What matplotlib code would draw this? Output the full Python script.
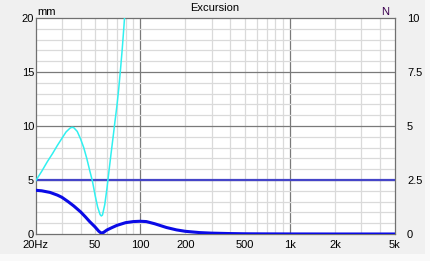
import matplotlib
matplotlib.use("Agg")
import matplotlib.pyplot as plt
from matplotlib.patches import Rectangle

# Frequences (Hz) et excursions
f_cyan = [20, 22, 24, 26, 28, 30, 32, 34, 35, 36, 38, 40, 42, 44, 46, 48, 50,
          52, 54, 55, 56, 58, 60, 62, 64, 66, 68, 70, 72, 74, 76, 78, 80]
mm_cyan = [4.9, 5.8, 6.7, 7.45, 8.2, 8.85, 9.45, 9.8, 9.88, 9.85, 9.5, 8.8,
           8.0, 7.0, 5.9, 4.9, 3.6, 2.5, 1.8, 1.67, 1.75, 2.7, 4.2, 5.9,
           7.5, 9.0, 10.5, 11.9, 13.5, 15.3, 17.2, 19.3, 21.5]

f_blue = [20, 22, 25, 28, 30, 33, 36, 40, 43, 46, 50, 53, 55, 57, 60, 65, 70,
          80, 90, 100, 110, 125, 150, 175, 200, 250, 300, 400, 500, 700,
          1000, 2000, 5000]
mm_blue = [4.05, 4.0, 3.85, 3.6, 3.4, 3.0, 2.6, 2.05, 1.6, 1.15, 0.65, 0.25,
           0.08, 0.15, 0.37, 0.6, 0.8, 1.05, 1.15, 1.18, 1.15, 0.95, 0.6,
           0.38, 0.25, 0.13, 0.08, 0.04, 0.02, 0.01, 0.005, 0.0, 0.0]

f_lim = [20, 5000]
mm_lim = [5, 5]

xticks = [20, 50, 100, 200, 500, 1000, 2000, 5000]
xlabels = ["20Hz", "50", "100", "200", "500", "1k", "2k", "5k"]
yticks = [0, 5, 10, 15, 20]
yticks_n = [0, 2.5, 5, 7.5, 10]
ylabels_n = ["0", "2.5", "5", "7.5", "10"]

plt.rcParams['font.family'] = ['Liberation Sans', 'DejaVu Sans']

fig = plt.figure(figsize=(4.30, 2.61), dpi=100)
fig.patch.set_facecolor("#F0F0F0")
# bandes claires en bas et a droite
fig.patches.append(Rectangle((0, 0), 1, 7 / 261, transform=fig.transFigure,
                             facecolor="#F9F9F9", edgecolor="none", zorder=0))
fig.patches.append(Rectangle((425 / 430, 0), 5 / 430, 1, transform=fig.transFigure,
                             facecolor="#F9F9F9", edgecolor="none", zorder=0))

ax = fig.add_axes([35.5 / 430, 1 - 234 / 261, 359 / 430, 216 / 261])
ax.set_facecolor("white")
ax.set_xscale("log")
ax.set_xlim(20, 5000)
ax.set_ylim(0, 20)

# grille
minor_x = [30, 40, 50, 60, 70, 80, 90, 200, 300, 400, 500, 600, 700, 800,
           900, 2000, 3000, 4000]
for x in minor_x:
    ax.axvline(x, color="#DADADA", lw=0.9, zorder=1)
for x in [100, 1000]:
    ax.axvline(x, color="#7A7A7A", lw=0.9, zorder=1)
for y in range(1, 20):
    if y % 5:
        ax.axhline(y, color="#DADADA", lw=0.9, zorder=1)
    else:
        ax.axhline(y, color="#7A7A7A", lw=0.9, zorder=1)

ax.plot(f_lim, mm_lim, color="#4545C8", lw=1.6, zorder=3)
ax.plot(f_cyan, mm_cyan, color="#30F0F0", lw=1.1, zorder=4, clip_on=True)
ax.plot(f_blue, mm_blue, color="#0A0AE6", lw=2.2, zorder=5)

for s in ax.spines.values():
    s.set_color("#707070")
    s.set_linewidth(0.9)

ax.set_xticks(xticks)
ax.set_xticklabels(xlabels)
ax.xaxis.set_minor_locator(matplotlib.ticker.NullLocator())
ax.set_yticks(yticks)
ax.tick_params(length=0, labelsize=8, pad=1)
ax.tick_params(axis="x", pad=4)

ax2 = ax.twinx()
ax2.set_ylim(0, 10)
ax2.set_yticks(yticks_n)
ax2.set_yticklabels(ylabels_n)
ax2.tick_params(length=0, labelsize=8, pad=9)
for s in ax2.spines.values():
    s.set_visible(False)

fig.text(215 / 430, 1 - 8 / 261, "Excursion", ha="center", va="center", fontsize=8)
fig.text(37 / 430, 1 - 12 / 261, "mm", ha="left", va="center", fontsize=8)
fig.text(389 / 430, 1 - 12 / 261, "N", ha="right", va="center", fontsize=8,
         color="#3C0050")

fig.savefig("out.png", dpi=100, facecolor=fig.get_facecolor())
